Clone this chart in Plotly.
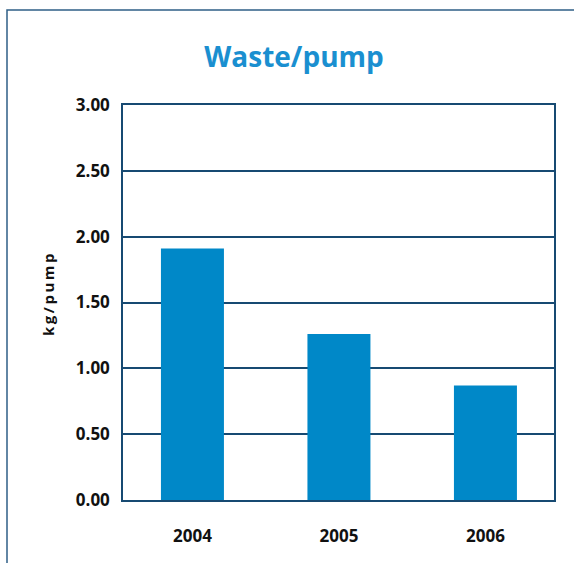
import plotly.graph_objects as go

years = ["2004", "2005", "2006"]
waste_per_pump = [1.91, 1.26, 0.87]
y_ticks = [0, 0.5, 1.0, 1.5, 2.0, 2.5, 3.0]
y_tick_labels = ["0.00", "0.50", "1.00", "1.50", "2.00", "2.50", "3.00"]
y_title = "kg/pump"

W, H = 574, 563
ML, MR, MT, MB = 123, 20, 105, 63
PW = W - ML - MR
PH = H - MT - MB

navy = "#174a72"
bar_color = "#0088c8"
font_family = "Open Sans, DejaVu Sans, sans-serif"

fig = go.Figure()
fig.add_trace(go.Bar(
    x=years, y=waste_per_pump,
    marker=dict(color=bar_color, line=dict(width=0)),
    width=0.43,
))

def px_x(p):
    return (p - ML) / PW

def px_y(p):
    return (H - MB - p) / PH

spaced_title = "\u2009".join(list(y_title))

fig.update_layout(
    width=W, height=H,
    margin=dict(l=ML, r=MR, t=MT, b=MB),
    paper_bgcolor="white", plot_bgcolor="white",
    showlegend=False,
    title=dict(
        text="Waste/pump",
        x=294 / W, xref="container", xanchor="center",
        y=1 - 57 / H, yref="container", yanchor="middle",
        font=dict(family=font_family, size=28, color="#1a8fd0", weight="bold"),
    ),
    xaxis=dict(
        range=[-0.474, 2.468],
        showline=True, linecolor=navy, linewidth=1.5, mirror=True,
        ticks="", showgrid=False,
        tickfont=dict(family=font_family, size=17, color="#111111", weight="bold"),
        ticklabelstandoff=20,
    ),
    yaxis=dict(
        range=[0, 3], tickvals=y_ticks, ticktext=y_tick_labels,
        showline=True, linecolor=navy, linewidth=1.5, mirror=True,
        showgrid=True, gridcolor=navy, gridwidth=1.5,
        zeroline=False, ticks="",
        tickfont=dict(family=font_family, size=17, color="#111111", weight="bold"),
        ticklabelstandoff=8,
    ),
    annotations=[dict(
        text=spaced_title, textangle=-90, showarrow=False,
        xref="paper", yref="paper", x=px_x(48), y=px_y(295),
        xanchor="center", yanchor="middle",
        font=dict(family=font_family, size=15, color="#111111", weight="bold"),
    )],
    shapes=[dict(
        type="rect", xref="paper", yref="paper",
        x0=px_x(7), x1=px_x(W + 10), y0=px_y(H + 10), y1=px_y(10),
        line=dict(color="#2f5f86", width=1.5), fillcolor="rgba(0,0,0,0)", layer="below",
    )],
)

fig.write_html("out.html", config={"displayModeBar": False},
               post_script="document.body.style.margin='0';")
